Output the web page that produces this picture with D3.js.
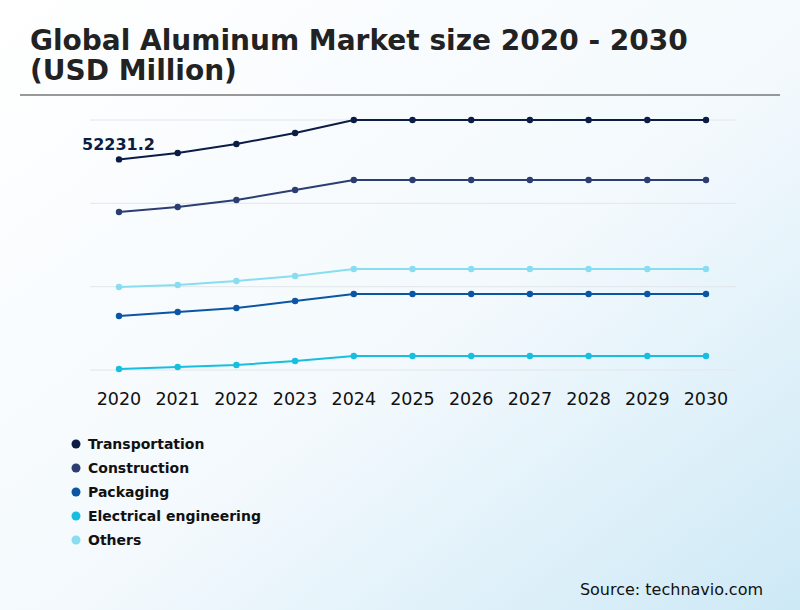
<!DOCTYPE html><html><head><meta charset="utf-8"><script src="https://cdn.jsdelivr.net/npm/d3@7"></script>
<style>body{margin:0}</style></head><body><svg id="c" width="800" height="610"></svg>
<script>
const years=["2020","2021","2022","2023","2024","2025","2026","2027","2028","2029","2030"];
const seriesNames=["Transportation","Construction","Packaging","Electrical engineering","Others"];
const transportation=[52231.2,53816,56048,58776,62000,62000,62000,62000,62000,62000,62000];
const construction=[39184,40424,42160,44640,47120,47120,47120,47120,47120,47120,47120];
const packaging=[13392,14384,15376,17112,18848,18848,18848,18848,18848,18848,18848];
const electrical=[248,744,1240,2232,3472,3472,3472,3472,3472,3472,3472];
const others=[20584,21080,22072,23312,25048,25048,25048,25048,25048,25048,25048];
const colors=["#0c1d45","#2c3d72","#0b56a4","#16bfe0","#88def0"];
const values=[transportation,construction,packaging,electrical,others];
const svg=d3.select("#c");
const defs=svg.append("defs");
const g=defs.append("linearGradient").attr("id","bg").attr("x1","0").attr("y1","0").attr("x2","1").attr("y2","1");
g.append("stop").attr("offset","0").attr("stop-color","#ffffff");
g.append("stop").attr("offset","0.55").attr("stop-color","#f3f9fd");
g.append("stop").attr("offset","1").attr("stop-color","#cde9f6");
svg.append("rect").attr("width",800).attr("height",610).attr("fill","url(#bg)");
svg.append("text").attr("x",30).attr("y",50).attr("font-family","DejaVu Sans").attr("font-weight","bold").attr("font-size",28).attr("fill","#222").text("Global Aluminum Market size 2020 - 2030");
svg.append("text").attr("x",30).attr("y",80).attr("font-family","DejaVu Sans").attr("font-weight","bold").attr("font-size",28).attr("fill","#222").text("(USD Million)");
svg.append("line").attr("x1",20).attr("x2",780).attr("y1",95).attr("y2",95).attr("stroke","#777").attr("stroke-width",1.5);
const x=d3.scalePoint().domain(years).range([119,706]);
const y=d3.scaleLinear().domain([0,62000]).range([370,120]);
const ticks=d3.range(4).map(i=>62000*i/3);
svg.append("g").selectAll("line").data(ticks).join("line").attr("x1",90).attr("x2",736).attr("y1",d=>y(d)).attr("y2",d=>y(d)).attr("stroke","#e2e6ea");
svg.append("g").selectAll("text").data(years).join("text").attr("x",d=>x(d)).attr("y",405).attr("text-anchor","middle").attr("font-family","DejaVu Sans").attr("font-size",17.5).attr("fill","#111").text(d=>d);
const line=d3.line().x((d,i)=>x(years[i])).y(d=>y(d));
values.forEach((v,k)=>{
 svg.append("path").attr("d",line(v)).attr("fill","none").attr("stroke",colors[k]).attr("stroke-width",2);
 svg.append("g").selectAll("circle").data(v).join("circle").attr("cx",(d,i)=>x(years[i])).attr("cy",d=>y(d)).attr("r",3.2).attr("fill",colors[k]);
});
svg.append("text").attr("x",82).attr("y",y(transportation[0])-9).attr("font-family","DejaVu Sans").attr("font-weight","bold").attr("font-size",16).attr("fill","#0c1d45").text(transportation[0]);
const lg=svg.append("g").selectAll("g").data(seriesNames).join("g").attr("transform",(d,i)=>`translate(76,${444+i*24})`);
lg.append("circle").attr("r",4.5).attr("fill",(d,i)=>colors[i]);
lg.append("text").attr("x",12).attr("y",5).attr("font-family","DejaVu Sans").attr("font-weight","bold").attr("font-size",14).attr("fill","#111").text(d=>d);
svg.append("text").attr("x",763).attr("y",595).attr("text-anchor","end").attr("font-family","DejaVu Sans").attr("font-size",16).attr("fill","#111").text("Source: technavio.com");
</script></body></html>
